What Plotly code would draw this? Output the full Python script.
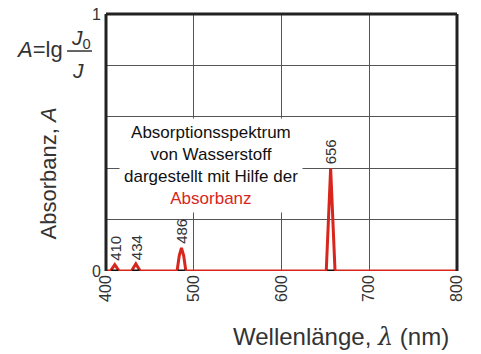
import plotly.graph_objects as go

# Spectrum (wavelength in nm, absorbance)
wavelength = [400, 405, 410, 415, 429, 434, 439, 481, 483.5, 486, 488.5, 491, 651, 656, 661, 800]
absorbance = [0, 0, 0.025, 0, 0, 0.028, 0, 0, 0.06, 0.09, 0.06, 0, 0, 0.4, 0, 0]

line_positions = [410, 434, 486, 656]
line_labels = ["410", "434", "486", "656"]
line_heights = [0.025, 0.028, 0.09, 0.4]

x_ticks = [400, 500, 600, 700, 800]
y_ticks = [0, 1]
y_grid_step = 0.2

RED = "#d8261c"
FONT = "Liberation Sans, Arial, sans-serif"

fig = go.Figure()
fig.add_trace(go.Scatter(x=wavelength, y=absorbance, mode="lines",
                         line=dict(color=RED, width=3), hoverinfo="skip"))
fig.add_trace(go.Scatter(x=line_positions, y=[0] * len(line_positions), mode="markers",
                         marker=dict(symbol="line-ew", size=5, line=dict(color="#111", width=3)),
                         hoverinfo="skip"))

annotations = []
for xp, lab, h in zip(line_positions, line_labels, line_heights):
    annotations.append(dict(x=xp, y=h, xref="x", yref="y", text=lab, showarrow=False,
                            textangle=-90, xanchor="center", yanchor="bottom", yshift=2,
                            font=dict(size=15, color="#333", family=FONT)))

# info box
annotations.append(dict(x=0.3, y=0.41, xref="paper", yref="paper", showarrow=False,
                        xanchor="center", yanchor="middle",
                        text="Absorptionsspektrum<br>von Wasserstoff<br>dargestellt mit Hilfe der<br>"
                             "<span style='color:" + RED + "'>Absorbanz</span>",
                        align="center", bgcolor="white", borderpad=4,
                        font=dict(size=17, color="#111", family=FONT)))

# y axis title
annotations.append(dict(x=-0.165, y=0.38, xref="paper", yref="paper", showarrow=False,
                        xanchor="center", yanchor="middle",
                        text="Absorbanz, <i>A</i>", textangle=-90,
                        font=dict(size=22, color="#333", family=FONT)))
# x axis title
annotations.append(dict(x=0.983, y=-0.257, xref="paper", yref="paper", showarrow=False,
                        text="Wellenlänge, <span style='font-family:DejaVu Serif'><i>λ</i></span> (nm)",
                        xanchor="right", yanchor="middle",
                        font=dict(size=24, color="#333", family=FONT)))
# formula
annotations.append(dict(x=-0.117, y=0.86, xref="paper", yref="paper", showarrow=False,
                        text="<i>A</i>=lg", xanchor="right", yanchor="middle",
                        font=dict(size=22, color="#333", family=FONT)))
annotations.append(dict(x=-0.072, y=0.902, xref="paper", yref="paper", showarrow=False,
                        text="<i>J</i><sub>0</sub>", xanchor="center", yanchor="middle",
                        font=dict(size=21, color="#333", family=FONT)))
annotations.append(dict(x=-0.08, y=0.78, xref="paper", yref="paper", showarrow=False,
                        text="<i>J</i>", xanchor="center", yanchor="middle",
                        font=dict(size=21, color="#333", family=FONT)))

shapes = [
    dict(type="line", xref="paper", yref="paper", x0=-0.111, x1=-0.04, y0=0.856, y1=0.856,
         line=dict(color="#333", width=1.5)),
    dict(type="line", xref="paper", yref="paper", x0=0, x1=0, y0=0, y1=1.0,
         line=dict(color="#222", width=3)),
    dict(type="line", xref="paper", yref="paper", x0=0, x1=1, y0=1, y1=1,
         line=dict(color="#222", width=3)),
    dict(type="line", xref="paper", yref="paper", x0=1, x1=1, y0=0, y1=1,
         line=dict(color="#222", width=3)),
]

fig.update_layout(
    width=481, height=354,
    margin=dict(l=106, r=24, t=14, b=83),
    paper_bgcolor="white", plot_bgcolor="white",
    showlegend=False,
    annotations=annotations,
    shapes=shapes,
    xaxis=dict(range=[400, 800], tickvals=x_ticks, ticktext=[str(v) for v in x_ticks],
               tickangle=-90, showgrid=True, gridcolor="#555", gridwidth=1,
               zeroline=False, showline=False, ticks="", automargin=False,
               tickfont=dict(size=16, color="#333", family=FONT)),
    yaxis=dict(range=[0, 1], tickvals=y_ticks, ticktext=[str(v) for v in y_ticks],
               showgrid=True, gridcolor="#555", gridwidth=1,
               minor=dict(dtick=y_grid_step, tick0=0, showgrid=True, gridcolor="#555",
                          gridwidth=1, ticks=""),
               zeroline=False, showline=False, ticks="", automargin=False,
               ticklabelstandoff=4,
               tickfont=dict(size=16, color="#333", family=FONT)),
)

fig.write_html("out.html", config={"displayModeBar": False},
               post_script="document.body.style.margin='0';")
